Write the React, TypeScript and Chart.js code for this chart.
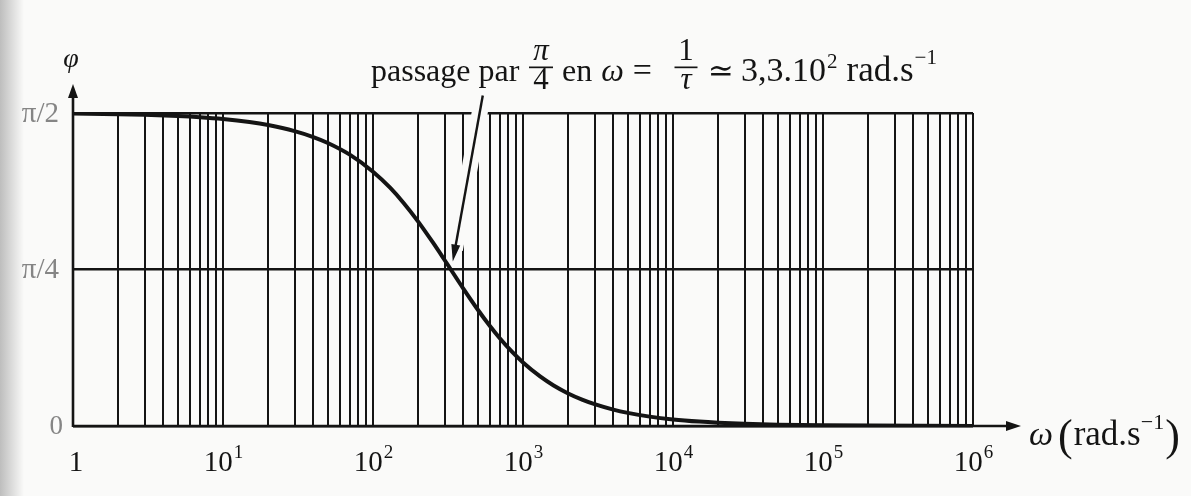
import { useEffect, useRef } from "react";
import { Chart, registerables } from "chart.js";

Chart.register(...registerables);

// Phase of the first-order high-pass response, φ(ω) in radians
const omega = [
  1, 2, 3, 5, 7, 10, 15, 20, 30, 40, 50, 70, 100, 130, 160, 200, 250, 300, 330, 400,
  500, 600, 700, 850, 1000, 1300, 1600, 2000, 2500, 3000, 4000, 5000, 7000, 10000,
  15000, 20000, 30000, 50000, 100000, 1000000,
];
const phase = [
  1.5678, 1.5647, 1.5617, 1.5556, 1.5496, 1.5405, 1.5254, 1.5103, 1.4801, 1.4502,
  1.4204, 1.3618, 1.2764, 1.1959, 1.1194, 1.0259, 0.9223, 0.833, 0.7854, 0.6898,
  0.5834, 0.5028, 0.4406, 0.3703, 0.3187, 0.2486, 0.2034, 0.1635, 0.1312, 0.1096,
  0.0823, 0.0659, 0.0471, 0.033, 0.022, 0.0165, 0.011, 0.0066, 0.0033, 0.0003,
];

// Log-paper rulings: 1..9 in every decade, closed at 10^6
const gridMantissas = [1, 2, 3, 4, 5, 6, 7, 8, 9];
const gridDecades = [1, 10, 100, 1000, 10000, 100000];
const omegaMax = 1000000;

const decadeTicks = [1, 10, 100, 1000, 10000, 100000, 1000000];
const decadeExponents = ["", "1", "2", "3", "4", "5", "6"];

const phaseTicks = [0, Math.PI / 4, Math.PI / 2];
const phaseTickLabels = ["0", "π/4", "π/2"];

// Cut-off point ω = 1/τ where φ = π/4
const cutoffOmega = 330;
const cutoffPhase = Math.PI / 4;

const SERIF = '"Liberation Serif", "DejaVu Serif", serif';
const INK = "#141414";
const PAPER = "#fafaf9";

const gridValues = gridDecades
  .flatMap((d) => gridMantissas.map((m) => m * d))
  .concat([omegaMax]);

function font(size: number, italic?: boolean) {
  return `${italic ? "italic " : ""}${size}px ${SERIF}`;
}

type Piece = { t: string; size: number; italic?: boolean; dy?: number; gap?: number };
type Frac = { cx: number; num: string; den: string; numItalic?: boolean; denItalic?: boolean; size: number; bar: number };

// writes pieces one after the other starting at x
function drawRun(ctx: CanvasRenderingContext2D, pieces: Piece[], x: number, base: number) {
  ctx.textAlign = "left";
  ctx.textBaseline = "alphabetic";
  for (const p of pieces) {
    x += p.gap || 0;
    ctx.font = font(p.size, p.italic);
    ctx.fillText(p.t, x, base + (p.dy || 0));
    x += ctx.measureText(p.t).width;
  }
  return x;
}

function drawFrac(ctx: CanvasRenderingContext2D, f: Frac, base: number) {
  ctx.textAlign = "center";
  ctx.textBaseline = "alphabetic";
  ctx.font = font(f.size, f.numItalic);
  ctx.fillText(f.num, f.cx, base - 21);
  ctx.font = font(f.size, f.denItalic);
  ctx.fillText(f.den, f.cx, base + 8);
  ctx.fillRect(f.cx - f.bar / 2, base - 14.5, f.bar, 1.7);
}

function arrowHead(
  ctx: CanvasRenderingContext2D,
  tipX: number,
  tipY: number,
  fromX: number,
  fromY: number,
  len: number,
  half: number
) {
  const a = Math.atan2(tipY - fromY, tipX - fromX);
  const bx = tipX - len * Math.cos(a);
  const by = tipY - len * Math.sin(a);
  ctx.beginPath();
  ctx.moveTo(tipX, tipY);
  ctx.lineTo(bx + half * Math.sin(a), by - half * Math.cos(a));
  ctx.lineTo(bx - half * Math.sin(a), by + half * Math.cos(a));
  ctx.closePath();
  ctx.fill();
}

function annotationGeometry(chart: Chart) {
  const xs = chart.scales.x;
  const ys = chart.scales.y;
  const tipX = xs.getPixelForValue(cutoffOmega) + 2;
  const tipY = ys.getPixelForValue(cutoffPhase) - 8;
  return { tipX, tipY, tailX: tipX + 30, tailY: tipY - 166 };
}

const paper = {
  id: "paper",
  beforeDraw(chart: Chart) {
    const { ctx, width, height } = chart;
    ctx.save();
    ctx.fillStyle = PAPER;
    ctx.fillRect(0, 0, width, height);
    const g = ctx.createLinearGradient(0, 0, 24, 0);
    g.addColorStop(0, "rgba(140,140,140,0.55)");
    g.addColorStop(1, "rgba(140,140,140,0)");
    ctx.fillStyle = g;
    ctx.fillRect(0, 0, 24, height);
    ctx.restore();
  },
  beforeDatasetsDraw(chart: Chart) {
    // clear the rulings along the pointer line
    const { ctx } = chart;
    const g = annotationGeometry(chart);
    const len = Math.hypot(g.tailX - g.tipX, g.tailY - g.tipY);
    const ux = (g.tipX - g.tailX) / len;
    const uy = (g.tipY - g.tailY) / len;
    ctx.save();
    ctx.strokeStyle = PAPER;
    ctx.lineWidth = 16;
    ctx.lineCap = "butt";
    ctx.beginPath();
    ctx.moveTo(g.tailX - ux * 4, g.tailY - uy * 4);
    ctx.lineTo(g.tipX - ux * 12, g.tipY - uy * 12);
    ctx.stroke();
    ctx.restore();
  },
  afterDraw(chart: Chart) {
    const { ctx, chartArea } = chart;
    const xs = chart.scales.x;
    const ys = chart.scales.y;
    const left = chartArea.left;
    const bottom = ys.getPixelForValue(0);
    ctx.save();
    ctx.fillStyle = INK;
    ctx.strokeStyle = INK;

    // axes with arrows
    ctx.lineWidth = 2.6;
    ctx.beginPath();
    ctx.moveTo(left, bottom + 1);
    ctx.lineTo(left, 92);
    ctx.moveTo(left, bottom);
    ctx.lineTo(1012, bottom);
    ctx.stroke();
    arrowHead(ctx, left, 84, left, 200, 14, 5);
    arrowHead(ctx, 1021, bottom, 900, bottom, 15, 5);

    // pointer to the π/4 crossing
    const g = annotationGeometry(chart);
    ctx.lineWidth = 2.4;
    ctx.beginPath();
    ctx.moveTo(g.tailX, g.tailY);
    ctx.lineTo(g.tipX + (g.tailX - g.tipX) * 0.06, g.tipY + (g.tailY - g.tipY) * 0.06);
    ctx.stroke();
    arrowHead(ctx, g.tipX, g.tipY, g.tailX, g.tailY, 17, 4.5);

    // x decade labels
    ctx.textBaseline = "alphabetic";
    decadeTicks.forEach((v, i) => {
      const px = xs.getPixelForValue(v);
      const exp = decadeExponents[i];
      if (!exp) {
        ctx.font = font(29);
        ctx.textAlign = "center";
        ctx.fillText("1", px + 3, bottom + 45);
        return;
      }
      ctx.font = font(29);
      const w1 = ctx.measureText("10").width;
      ctx.font = font(19);
      const w2 = ctx.measureText(exp).width;
      const x0 = px - (w1 + w2) / 2;
      ctx.textAlign = "left";
      ctx.font = font(29);
      ctx.fillText("10", x0, bottom + 45);
      ctx.font = font(19);
      ctx.fillText(exp, x0 + w1 + 1, bottom + 32);
    });

    // y labels (faint on the page)
    ctx.save();
    ctx.fillStyle = "#858585";
    ctx.filter = "blur(0.7px)";
    ctx.textAlign = "right";
    ctx.textBaseline = "middle";
    phaseTicks.forEach((v, i) => {
      const py = ys.getPixelForValue(v);
      ctx.font = font(i === 0 ? 27 : 29);
      ctx.fillText(phaseTickLabels[i], i === 0 ? left - 10 : left - 14, py + 1);
    });
    ctx.restore();

    // axis names
    ctx.textAlign = "center";
    ctx.textBaseline = "alphabetic";
    ctx.font = font(28, true);
    ctx.fillText("φ", left - 2, 67);

    drawRun(
      ctx,
      [
        { t: "ω", size: 34, italic: true },
        { t: "(", size: 44, dy: 5, gap: 5 },
        { t: "rad.s", size: 35, gap: 1 },
        { t: "−1", size: 22, dy: -16 },
        { t: ")", size: 44, dy: 5, gap: 1 },
      ],
      1029,
      bottom + 19
    );

    // note above the plot
    const base = 81;
    drawRun(ctx, [{ t: "passage par", size: 32 }], 371, base);
    drawFrac(ctx, { cx: 541, num: "π", den: "4", numItalic: true, size: 31, bar: 24 }, base);
    drawRun(
      ctx,
      [
        { t: "en", size: 32 },
        { t: "ω", size: 32, italic: true, gap: 9 },
        { t: "=", size: 34, gap: 9 },
      ],
      562,
      base
    );
    drawFrac(ctx, { cx: 686, num: "1", den: "τ", denItalic: true, size: 31, bar: 23 }, base);
    drawRun(
      ctx,
      [
        { t: "≃", size: 31 },
        { t: "3,3.10", size: 34, gap: 7 },
        { t: "2", size: 21, dy: -13, gap: 1 },
        { t: "rad.s", size: 35, gap: 9 },
        { t: "−1", size: 21, dy: -17, gap: 1 },
      ],
      708,
      base
    );
    ctx.restore();
  },
};

export default function App() {
  const ref = useRef<HTMLCanvasElement | null>(null);

  useEffect(() => {
    const canvas = ref.current;
    if (!canvas) return;
    const chart = new Chart(canvas, {
      type: "line",
      data: {
        datasets: [
          {
            data: omega.map((w, i) => ({ x: w, y: phase[i] })),
            borderColor: INK,
            borderWidth: 4,
            pointRadius: 0,
            cubicInterpolationMode: "monotone",
            fill: false,
          },
        ],
      },
      options: {
        responsive: false,
        animation: false,
        devicePixelRatio: 1,
        layout: { padding: { left: 73, right: 218, top: 113, bottom: 70 } },
        plugins: { legend: { display: false }, tooltip: { enabled: false } },
        scales: {
          x: {
            type: "logarithmic",
            min: 1,
            max: omegaMax,
            afterBuildTicks: (s: any) => {
              s.ticks = gridValues.map((v) => ({ value: v }));
            },
            ticks: { display: false },
            grid: { color: INK, lineWidth: 2, drawTicks: false },
            border: { display: false },
          },
          y: {
            type: "linear",
            min: 0,
            max: Math.PI / 2,
            afterBuildTicks: (s: any) => {
              s.ticks = phaseTicks.map((v) => ({ value: v }));
            },
            ticks: { display: false },
            grid: { color: INK, lineWidth: 2.4, drawTicks: false },
            border: { display: false },
          },
        },
      },
      plugins: [paper],
    } as any);
    return () => chart.destroy();
  }, []);

  return (
    <div style={{ position: "fixed", left: 0, top: 0, width: 1191, height: 496 }}>
      <canvas ref={ref} width={1191} height={496} style={{ display: "block" }} />
    </div>
  );
}
